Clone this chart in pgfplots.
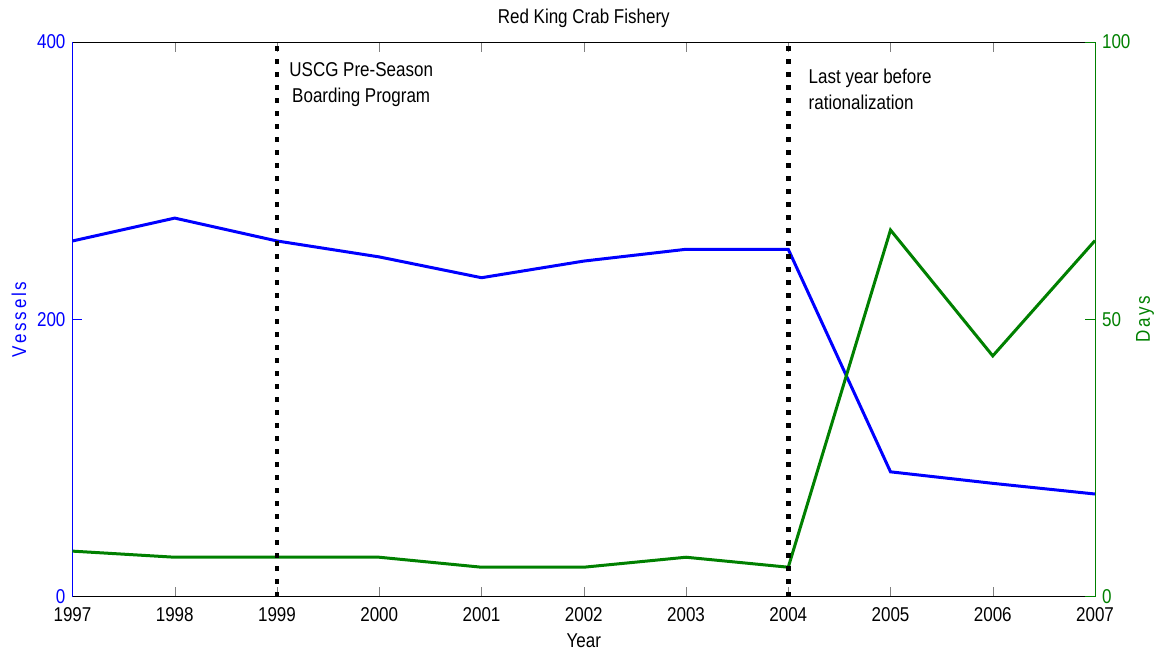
\documentclass[border=0pt]{standalone}
\usepackage{pgfplots}
\pgfplotsset{compat=1.18}
\usepackage{fontspec}
\setmainfont[FakeStretch=0.85]{Liberation Sans}
\definecolor{mgreen}{rgb}{0,0.5,0}
\pgfplotsset{
  common/.style={
    at={(0,0)}, anchor=south west, scale only axis,
    width=511.25pt, height=277.3pt,
    xmin=1997, xmax=2007,
    xtick={1997,1998,1999,2000,2001,2002,2003,2004,2005,2006,2007},
    tick align=inside, major tick length=5pt,
    /pgf/number format/assume math mode=true,
    /pgf/number format/1000 sep={},
    tick label style={font=\fontsize{10}{12}\selectfont},
    label style={font=\fontsize{10}{12}\selectfont},
    clip=false,
  }
}
\begin{document}
\begin{tikzpicture}
\path[use as bounding box] (-36.25pt,-29.2pt) rectangle (546.25pt,298.3pt);
\begin{axis}[common,
  ymin=0, ymax=400, ytick={0,200,400},
  axis x line=box, axis y line*=left,
  y axis line style={blue},
  ytick style={blue},
  yticklabel style={blue},
  xticklabel style={black, yshift=-2pt},
  title={Red King Crab Fishery},
  title style={font=\fontsize{10}{12}\selectfont, yshift=-2.5pt},
  xlabel={Year},
  xlabel style={yshift=1pt},
  ylabel={\addfontfeatures{LetterSpace=14}Vessels},
  ylabel style={blue, yshift=-1.5pt},
]
\addplot[blue, line width=1.5pt] coordinates {
  (1997,256.5) (1998,273) (1999,256.5) (2000,245) (2001,230) (2002,242)
  (2003,250.5) (2004,250.5) (2005,90) (2006,81.7) (2007,74)
};
\end{axis}
\begin{axis}[common,
  ymin=0, ymax=100, ytick={0,50,100},
  axis x line=none, axis y line*=right,
  y axis line style={mgreen},
  ytick style={mgreen},
  yticklabel style={mgreen},
  ylabel={\addfontfeatures{LetterSpace=12}Days},
  ylabel style={mgreen, yshift=4pt},
]
\addplot[mgreen, line width=1.5pt] coordinates {
  (1997,8.2) (1998,7.1) (1999,7.1) (2000,7.1) (2001,5.3) (2002,5.3)
  (2003,7.1) (2004,5.3) (2005,66.1) (2006,43.4) (2007,64.2)
};
\addplot[black, line width=2.4pt, dash pattern=on 2.2pt off 4.3pt] coordinates {(1999,0) (1999,100)};
\addplot[black, line width=2.4pt, dash pattern=on 2.2pt off 4.3pt] coordinates {(2004,0) (2004,100)};
\node[anchor=west, inner sep=0pt, align=center, font=\fontsize{10}{13}\selectfont]
  at (axis cs:1999,92.3) [xshift=6pt] {USCG Pre-Season\\Boarding Program};
\node[anchor=west, inner sep=0pt, align=left, font=\fontsize{10}{13}\selectfont]
  at (axis cs:2004,91.5) [xshift=10pt] {Last year before\\rationalization};
\end{axis}
\end{tikzpicture}
\end{document}
